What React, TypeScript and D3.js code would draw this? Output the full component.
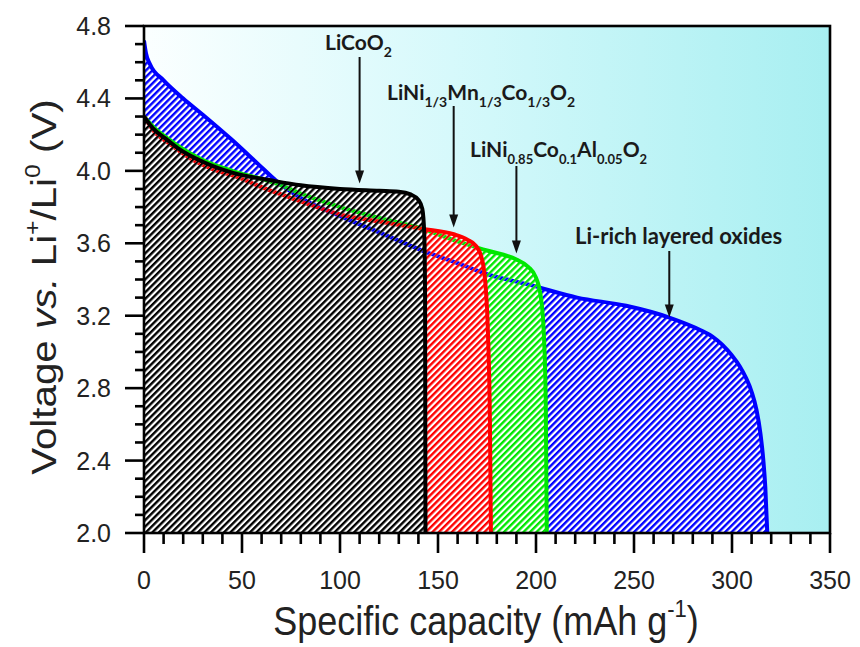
import React from 'react';
import * as d3 from 'd3';

// ---------- data (capacity in mAh/g, voltage in V) ----------
const capLiCoO2 = [0, 5, 12, 18, 30, 45, 66, 80, 100, 120, 130, 136, 140, 142, 143, 143.4, 143.6];
const voltLiCoO2 = [4.30, 4.23, 4.17, 4.12, 4.05, 3.99, 3.945, 3.92, 3.90, 3.89, 3.885, 3.87, 3.84, 3.79, 3.65, 3.30, 2.00];

const capNMC = [0, 5, 13, 25, 35, 49, 60, 75, 88, 100, 120, 142, 158, 165, 169, 172, 174, 175.5, 176.5, 177];
const voltNMC = [4.30, 4.22, 4.15, 4.06, 4.01, 3.96, 3.91, 3.85, 3.80, 3.76, 3.72, 3.68, 3.65, 3.62, 3.59, 3.53, 3.40, 3.10, 2.60, 2.00];

const capNCA = [0, 5, 12, 20, 30, 45, 60, 70, 80, 90, 100, 120, 142, 160, 175, 190, 196, 200, 202.5, 204, 205, 205.5];
const voltNCA = [4.30, 4.24, 4.18, 4.12, 4.06, 4.00, 3.955, 3.92, 3.875, 3.835, 3.80, 3.74, 3.68, 3.61, 3.56, 3.51, 3.47, 3.41, 3.30, 3.10, 2.70, 2.00];

const capLiRich = [0, 1, 3, 10, 20, 30, 45, 58, 68, 80, 100, 120, 142, 160, 175, 197, 221, 246, 268, 284, 290, 295, 300, 304, 307, 310, 312.5, 314.5, 316, 317, 318];
const voltLiRich = [4.72, 4.65, 4.59, 4.50, 4.40, 4.31, 4.17, 4.04, 3.94, 3.85, 3.75, 3.66, 3.56, 3.49, 3.43, 3.37, 3.30, 3.255, 3.19, 3.12, 3.085, 3.04, 2.98, 2.92, 2.86, 2.78, 2.68, 2.55, 2.40, 2.25, 2.00];

const seriesNames = ['Li-rich', 'NCA', 'NMC', 'LiCoO2'];
const seriesColors = ['#0000ff', '#00e800', '#ff0000', '#000000'];

const xTickLabels = ['0', '50', '100', '150', '200', '250', '300', '350'];
const yTickLabels = ['2.0', '2.4', '2.8', '3.2', '3.6', '4.0', '4.4', '4.8'];

// annotation arrows: capacity of arrow, voltage of arrow tip
const arrowCaps = [110, 158, 190, 268];
const arrowTipVolts = [3.93, 3.687, 3.544, 3.19];

type Seg = [string, 'n' | 'sub'];
const labelSegs: Seg[][] = [
  [['LiCoO', 'n'], ['2', 'sub']],
  [['LiNi', 'n'], ['1/3', 'sub'], ['Mn', 'n'], ['1/3', 'sub'], ['Co', 'n'], ['1/3', 'sub'], ['O', 'n'], ['2', 'sub']],
  [['LiNi', 'n'], ['0.85', 'sub'], ['Co', 'n'], ['0.1', 'sub'], ['Al', 'n'], ['0.05', 'sub'], ['O', 'n'], ['2', 'sub']],
  [['Li-rich layered oxides', 'n']],
];
const labelPos = [
  { x: 325, y: 50, tail: 57, fs: 21, sub: 14 },
  { x: 387, y: 100, tail: 106, fs: 21, sub: 14 },
  { x: 470, y: 157, tail: 166, fs: 21, sub: 13 },
  { x: 575, y: 244, tail: 251, fs: 22, sub: 14 },
];

const L = 144, R = 830, T = 26, B = 533;
const HP = 4.6; // hatch period
const HW = 2.4; // hatch stripe width

export default function App() {
  const x = d3.scaleLinear().domain([0, 350]).range([L, R]);
  const y = d3.scaleLinear().domain([2.0, 4.8]).range([B, T]);

  const caps = [capLiRich, capNCA, capNMC, capLiCoO2];
  const volts = [voltLiRich, voltNCA, voltNMC, voltLiCoO2];
  const series = seriesNames.map((name, i) => ({
    name,
    color: seriesColors[i],
    pts: caps[i].map((c, j) => [c, volts[i][j]] as [number, number]),
  }));

  const area = d3
    .area<[number, number]>()
    .x((d) => x(d[0]))
    .y0(y(2.0))
    .y1((d) => y(d[1]))
    .curve(d3.curveMonotoneX);
  const line = d3
    .line<[number, number]>()
    .x((d) => x(d[0]))
    .y((d) => y(d[1]))
    .curve(d3.curveMonotoneX);

  const areaD = series.map((s) => area(s.pts) || '');

  const yMinor = d3.range(20, 49).map((v) => v / 10);
  const xMinor = d3.range(0, 351, 10);

  const tickFont = "'Liberation Sans', Arial, sans-serif";
  const annFont = "Lato, 'Open Sans', sans-serif";

  return (
    <svg
      width={860}
      height={647}
      style={{ position: 'absolute', left: 0, top: 0, background: '#fff' }}
      xmlns="http://www.w3.org/2000/svg"
    >
      <defs>
        <linearGradient id="bg" x1="0" x2="1" y1="0" y2="0">
          <stop offset="0" stopColor="#fbffff" />
          <stop offset="0.45" stopColor="#d6f9fb" />
          <stop offset="1" stopColor="#a8eff1" />
        </linearGradient>
        {series.map((s, i) => (
          <pattern
            key={i}
            id={`hatch${i}`}
            patternUnits="userSpaceOnUse"
            width={HP}
            height={HP}
            patternTransform="rotate(45)"
          >
            <rect x={0} y={0} width={HP} height={HP} fill="#ffffff" />
            <rect x={0} y={0} width={HW} height={HP} fill={s.color} />
          </pattern>
        ))}
        <pattern id="gapPat" patternUnits="userSpaceOnUse" width={HP} height={HP} patternTransform="rotate(45)">
          <rect x={0} y={0} width={HP} height={HP} fill="#ffffff" />
          <rect x={0} y={0} width={HW} height={HP} fill="#000000" />
        </pattern>
        {series.map((s, i) => (
          <mask key={`m${i}`} id={`lineMask${i}`} maskUnits="userSpaceOnUse" x={0} y={0} width={860} height={647}>
            <rect x={0} y={0} width={860} height={647} fill="#ffffff" />
            {areaD.slice(i + 1).map((d, k) => (
              <path key={k} d={d} fill="url(#gapPat)" />
            ))}
          </mask>
        ))}
        <clipPath id="plotClip">
          <rect x={L} y={T} width={R - L} height={B - T} />
        </clipPath>
      </defs>

      <rect x={L} y={T} width={R - L} height={B - T} fill="url(#bg)" />

      <g clipPath="url(#plotClip)">
        {series.map((s, i) => (
          <path key={`h${i}`} d={areaD[i]} fill={`url(#hatch${i})`} />
        ))}
        {series.map((s, i) => (
          <path
            key={`l${i}`}
            d={line(s.pts) || ''}
            fill="none"
            stroke={s.color}
            strokeWidth={4}
            strokeLinejoin="round"
            mask={`url(#lineMask${i})`}
          />
        ))}
      </g>

      {/* frame */}
      <rect x={L} y={T} width={R - L} height={B - T} fill="none" stroke="#000" strokeWidth={2.6} />

      {/* y ticks */}
      {yMinor.map((v, i) => {
        const major = i % 4 === 0;
        return (
          <line key={`yt${i}`} x1={L} x2={L - (major ? 19 : 9)} y1={y(v)} y2={y(v)} stroke="#000" strokeWidth={2.6} />
        );
      })}
      {yTickLabels.map((t) => (
        <text key={`yl${t}`} x={111} y={y(+t) + 9} textAnchor="end" fontFamily={tickFont} fontSize={25} fill="#222">
          {t}
        </text>
      ))}

      {/* x ticks */}
      {xMinor.map((v) => {
        const major = v % 50 === 0;
        return (
          <line key={`xt${v}`} x1={x(v)} x2={x(v)} y1={B} y2={B + (major ? 20 : 11)} stroke="#000" strokeWidth={2.6} />
        );
      })}
      {xTickLabels.map((t) => (
        <text key={`xl${t}`} x={x(+t)} y={589} textAnchor="middle" fontFamily={tickFont} fontSize={25} fill="#222">
          {t}
        </text>
      ))}

      {/* axis titles */}
      <g transform="translate(486,635) scale(1,1.12)">
        <text x={0} y={0} textAnchor="middle" fontFamily={tickFont} fontSize={36} fill="#222">
          Specific capacity (mAh g
          <tspan fontSize={22} dy={-16}>-1</tspan>
          <tspan dy={16}>)</tspan>
        </text>
      </g>
      <g transform="translate(56,287) rotate(-90) scale(1.12,1)">
        <text x={0} y={0} textAnchor="middle" fontFamily={tickFont} fontSize={36} fill="#222">
          Voltage <tspan fontStyle="italic">vs.</tspan> Li
          <tspan fontSize={22} dy={-16}>+</tspan>
          <tspan dy={16}>/Li</tspan>
          <tspan fontSize={22} dy={-16}>0</tspan>
          <tspan dy={16}> (V)</tspan>
        </text>
      </g>

      {/* annotations */}
      {labelSegs.map((segs, i) => {
        const p = labelPos[i];
        const ax = x(arrowCaps[i]);
        const tip = y(arrowTipVolts[i]);
        let prevSub = false;
        return (
          <g key={`ann${i}`}>
            <text x={p.x} y={p.y} fontFamily={annFont} fontWeight={700} fontSize={p.fs} fill="#1a1a1a">
              {segs.map(([txt, kind], k) => {
                let dy = 0;
                if (kind === 'sub' && !prevSub) dy = 7;
                if (kind === 'n' && prevSub) dy = -7;
                prevSub = kind === 'sub';
                return (
                  <tspan key={k} dy={dy} fontSize={kind === 'sub' ? p.sub : p.fs}>
                    {txt}
                  </tspan>
                );
              })}
            </text>
            <line x1={ax} x2={ax} y1={p.tail} y2={tip - 10} stroke="#111" strokeWidth={2} />
            <path d={`M${ax - 4.5},${tip - 13}L${ax + 4.5},${tip - 13}L${ax},${tip}Z`} fill="#111" />
          </g>
        );
      })}
    </svg>
  );
}
